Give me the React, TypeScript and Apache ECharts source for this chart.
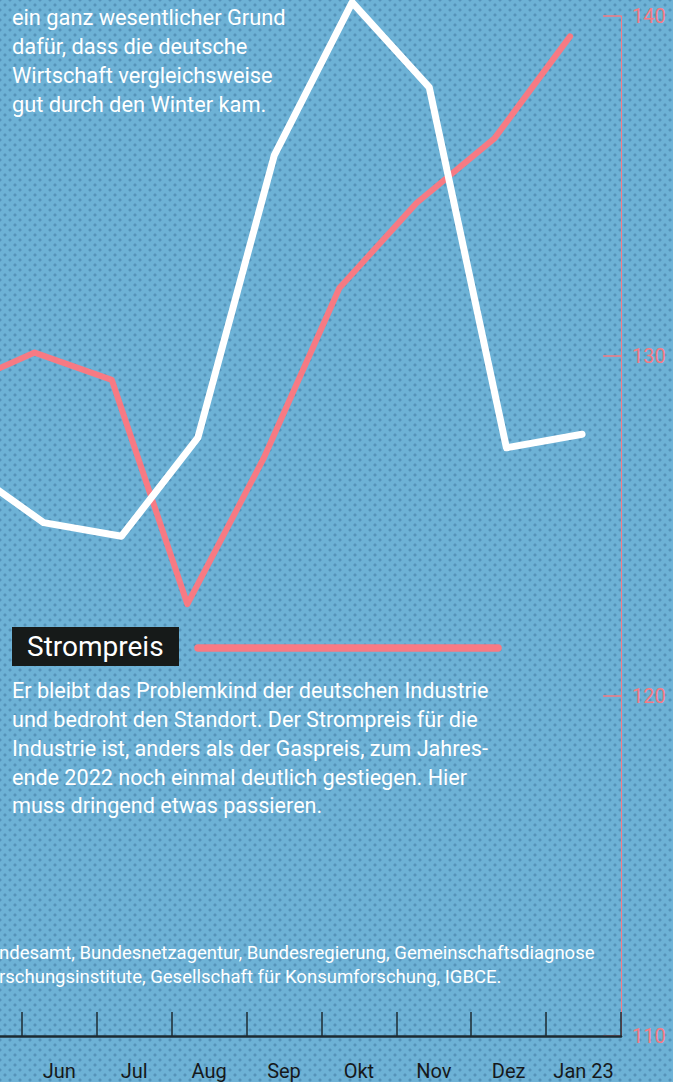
import React, { useEffect, useRef } from "react";
import * as echarts from "echarts";

// Category (month) labels of the x axis; "Mai" lies left of the visible crop
const months = ["Mai", "Jun", "Jul", "Aug", "Sep", "Okt", "Nov", "Dez", "Jan 23"];
// Right-hand axis ticks
const yMin = 110;
const yMax = 140;
const yStep = 10;

// White line (Gaspreis) – x in months from start of "Mai", y in index points
const gasX = [0.27, 1.29, 2.33, 3.35, 4.37, 5.41, 6.44, 7.47, 8.48];
const gasY = [126.7, 125.1, 124.7, 127.6, 135.9, 140.4, 137.9, 127.3, 127.7];

// Pink line (Strompreis)
const stromX = [0.15, 1.17, 2.2, 3.21, 4.23, 5.24, 6.27, 7.31, 8.32];
const stromY = [129.1, 130.1, 129.3, 122.7, 127.0, 132.0, 134.5, 136.4, 139.4];

const introLines = [
  "ein ganz wesentlicher Grund",
  "dafür, dass die deutsche",
  "Wirtschaft vergleichsweise",
  "gut durch den Winter kam.",
];
const legendTitle = "Strompreis";
const bodyLines = [
  "Er bleibt das Problemkind der deutschen Industrie",
  "und bedroht den Standort. Der Strompreis für die",
  "Industrie ist, anders als der Gaspreis, zum Jahres-",
  "ende 2022 noch einmal deutlich gestiegen. Hier",
  "muss dringend etwas passieren.",
];
const sourceLines = [
  "ndesamt, Bundesnetzagentur, Bundesregierung, Gemeinschaftsdiagnose",
  "rschungsinstitute, Gesellschaft für Konsumforschung, IGBCE.",
];

const PINK = "#f77a83";
const FONT = "Roboto, 'Noto Sans', sans-serif";
const OX = 53; // chart canvas is shifted left by this many pixels

export default function App() {
  const ref = useRef<HTMLDivElement>(null);

  useEffect(() => {
    if (!ref.current) return;
    const chart = echarts.init(ref.current, undefined, { renderer: "svg" });
    chart.setOption({
      animation: false,
      backgroundColor: "transparent",
      grid: { left: 0, right: 52, top: 16, bottom: 46, containLabel: false },
      xAxis: [
        {
          type: "category",
          data: months,
          boundaryGap: true,
          z: 5,
          axisLine: { show: true, lineStyle: { color: "#1c2a31", width: 2.5 } },
          axisTick: {
            show: true,
            inside: true,
            length: 24,
            lineStyle: { color: "#1c2a31", width: 1.5 },
          },
          axisLabel: {
            interval: (i: number) => i > 0,
            color: "#16191b",
            fontSize: 20,
            fontFamily: FONT,
            margin: 25,
          },
          splitLine: { show: false },
        },
        {
          type: "value",
          min: 0,
          max: months.length,
          show: false,
        },
      ],
      yAxis: {
        type: "value",
        position: "right",
        min: yMin,
        max: yMax,
        interval: yStep,
        z: 1,
        axisLine: { show: true, onZero: false, lineStyle: { color: PINK, width: 1 } },
        axisTick: { show: true, inside: true, length: 18, lineStyle: { color: PINK, width: 1.5 } },
        axisLabel: { color: PINK, fontSize: 20, fontFamily: FONT, margin: 11 },
        splitLine: { show: false },
      },
      series: [
        {
          type: "line",
          xAxisIndex: 1,
          data: gasX.map((x, i) => [x, gasY[i]]),
          symbol: "none",
          clip: false,
          lineStyle: { color: "#ffffff", width: 7, cap: "round", join: "round" },
          z: 3,
        },
        {
          type: "line",
          xAxisIndex: 1,
          data: stromX.map((x, i) => [x, stromY[i]]),
          symbol: "none",
          clip: false,
          lineStyle: { color: PINK, width: 6, cap: "round", join: "round" },
          z: 2,
        },
      ],
      graphic: [
        {
          type: "text",
          x: 12 + OX,
          y: 3,
          silent: true,
          style: {
            text: introLines.join("\n"),
            fill: "#ffffff",
            fontSize: 21.8,
            fontFamily: FONT,
            lineHeight: 29,
            verticalAlign: "top",
          },
        },
        {
          type: "rect",
          silent: true,
          shape: { x: 12 + OX, y: 627, width: 167, height: 39 },
          style: { fill: "#161a19" },
        },
        {
          type: "text",
          x: 27 + OX,
          y: 646.5,
          silent: true,
          style: {
            text: legendTitle,
            fill: "#ffffff",
            fontSize: 28,
            fontFamily: FONT,
            verticalAlign: "middle",
          },
        },
        {
          type: "line",
          silent: true,
          shape: { x1: 198 + OX, y1: 648, x2: 498 + OX, y2: 648 },
          style: { stroke: PINK, lineWidth: 7.5, lineCap: "round" },
        },
        {
          type: "text",
          x: 12 + OX,
          y: 676.6,
          silent: true,
          style: {
            text: bodyLines.join("\n"),
            fill: "#ffffff",
            fontSize: 21.6,
            fontFamily: FONT,
            lineHeight: 28.75,
            verticalAlign: "top",
          },
        },
        {
          type: "text",
          x: -1 + OX,
          y: 941,
          silent: true,
          style: {
            text: sourceLines.join("\n"),
            fill: "#ffffff",
            fontSize: 18.5,
            fontFamily: FONT,
            lineHeight: 24,
            verticalAlign: "top",
          },
        },
      ],
    });
    return () => chart.dispose();
  }, []);

  return (
    <div
      style={{
        position: "fixed",
        left: 0,
        top: 0,
        width: 673,
        height: 1082,
        overflow: "hidden",
        backgroundColor: "#6db2d6",
        backgroundImage:
          "radial-gradient(circle, rgba(55,105,145,0.42) 1.3px, transparent 1.8px), radial-gradient(circle, rgba(55,105,145,0.42) 1.3px, transparent 1.8px)",
        backgroundSize: "10px 10px",
        backgroundPosition: "0 0, 5px 5px",
      }}
    >
      <div
        ref={ref}
        style={{ position: "absolute", left: -OX, top: 0, width: 673 + OX, height: 1082 }}
      />
    </div>
  );
}
